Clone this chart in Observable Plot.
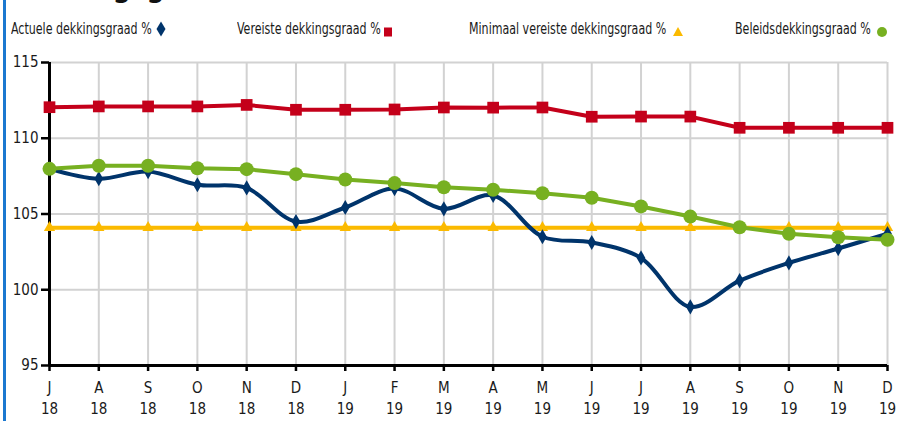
<!DOCTYPE html>
<html>
<head>
<meta charset="utf-8">
<script src="https://cdn.jsdelivr.net/npm/d3@7"></script>
<script src="https://cdn.jsdelivr.net/npm/@observablehq/plot@0.6"></script>
<style>
  body { margin: 0; background: #fff; }
  #wrap { position: relative; width: 906px; height: 421px; overflow: hidden; background: #fff;
          font-family: "Liberation Sans Narrow", "DejaVu Sans Condensed", "Roboto", sans-serif; color: #1a1a1a; }
  #border { position: absolute; left: 3px; top: 0; width: 3px; height: 421px; background: #1b78d0; }
  #title { position: absolute; left: 13px; top: -28px; font-size: 30px; font-weight: bold; line-height: 30px; color: #111; white-space: nowrap; transform: scaleX(0.95); transform-origin: 0 0; }
  .leg { position: absolute; top: 20px; font-size: 16.5px; line-height: 18px; white-space: nowrap; transform: scaleX(0.745); transform-origin: 0 0; }
  .sym { position: absolute; }
  #chart { position: absolute; left: 0; top: 0; }
</style>
</head>
<body>
<div id="wrap">
  <div id="title">Dekkingsgraad</div>
  <div id="border"></div>
  <div id="chart"></div>
</div>
<script>
const months = ["J","A","S","O","N","D","J","F","M","A","M","J","J","A","S","O","N","D"];
const years  = ["18","18","18","18","18","18","19","19","19","19","19","19","19","19","19","19","19","19"];
const yTicks = [95, 100, 105, 110, 115];

const actuele  = [107.98, 107.33, 107.8, 106.93, 106.72, 104.5, 105.43, 106.68, 105.34, 106.22, 103.5, 103.12, 102.1, 98.87, 100.6, 101.77, 102.72, 103.7];
const vereiste = [112.05, 112.1, 112.1, 112.1, 112.2, 111.88, 111.88, 111.9, 112.03, 112.02, 112.03, 111.42, 111.43, 111.43, 110.69, 110.69, 110.69, 110.69];
const minimaal = [104.1, 104.1, 104.1, 104.1, 104.1, 104.1, 104.1, 104.1, 104.1, 104.1, 104.1, 104.1, 104.1, 104.1, 104.1, 104.1, 104.1, 104.1];
const beleids  = [107.98, 108.18, 108.18, 108.02, 107.96, 107.63, 107.28, 107.04, 106.77, 106.6, 106.37, 106.07, 105.5, 104.83, 104.13, 103.69, 103.47, 103.3];

const legendLabels = ["Actuele dekkingsgraad %", "Vereiste dekkingsgraad %", "Minimaal vereiste dekkingsgraad %", "Beleidsdekkingsgraad %"];
const legendSymbols = ["diamond", "square", "triangle", "circle"];

const idx = months.map((m, i) => i);
const C = {act: "#00346b", ver: "#c4001a", min: "#fbba00", bel: "#77b021"};
const legendColors = [C.act, C.ver, C.min, C.bel];
const legendLeft = [11, 237, 469, 735];
const legendSymX = [161, 388, 678, 882];

const chart = Plot.plot({
  width: 906,
  height: 421,
  marginTop: 62,
  marginBottom: 56,
  marginLeft: 49,
  marginRight: 19,
  style: {fontFamily: '"Liberation Sans Narrow", "DejaVu Sans Condensed", sans-serif', fontSize: "15px", color: "#1a1a1a", background: "transparent", overflow: "visible"},
  x: {domain: [0, 17], axis: null},
  y: {domain: [95, 115], axis: null},
  marks: [
    Plot.ruleX(idx, {x: i => i, y1: 95, y2: 115, stroke: "#d2d2d2", strokeWidth: 2}),
    Plot.ruleY(yTicks, {y: d => d, x1: 0, x2: 17, stroke: "#d2d2d2", strokeWidth: 2}),
    Plot.axisY(yTicks, {tickSize: 8, tickPadding: 3, stroke: "#000", strokeWidth: 2.5, label: null}),
    Plot.axisX(idx, {tickSize: 6, tickPadding: 7, stroke: "#000", strokeWidth: 2.5, label: null,
      tickFormat: i => months[i] + "\n" + years[i], lineHeight: 1.4}),
    Plot.ruleY([95], {stroke: "#000", strokeWidth: 3}),
    Plot.ruleX([0], {stroke: "#000", strokeWidth: 3}),
    // Minimaal vereiste
    Plot.line(idx, {x: i => i, y: i => minimaal[i], stroke: C.min, strokeWidth: 4}),
    Plot.dot(idx, {x: i => i, y: i => minimaal[i], symbol: "triangle", r: 4.2, fill: C.min, stroke: null}),
    // Vereiste
    Plot.line(idx, {x: i => i, y: i => vereiste[i], stroke: C.ver, strokeWidth: 4}),
    Plot.dot(idx, {x: i => i, y: i => vereiste[i], symbol: "square", r: 6.6, fill: C.ver, stroke: null}),
    // Actuele
    Plot.line(idx, {x: i => i, y: i => actuele[i], stroke: C.act, strokeWidth: 4, curve: "catmull-rom"}),
    Plot.dot(idx, {x: i => i, y: i => actuele[i], symbol: "diamond", r: 4.6, fill: C.act, stroke: null}),
    // Beleids
    Plot.line(idx, {x: i => i, y: i => beleids[i], stroke: C.bel, strokeWidth: 4}),
    Plot.dot(idx, {x: i => i, y: i => beleids[i], symbol: "circle", r: 7, fill: C.bel, stroke: null})
  ]
});
document.getElementById("chart").appendChild(chart);

// legend
const wrap = document.getElementById("wrap");
const symSvg = {
  diamond: c => `<svg width="10" height="16" viewBox="-5 -8 10 16"><path d="M0,-7.5L4.5,0L0,7.5L-4.5,0Z" fill="${c}"/></svg>`,
  square: c => `<svg width="10" height="12" viewBox="-5 -6 10 12"><rect x="-4" y="-4.5" width="8" height="9" fill="${c}"/></svg>`,
  triangle: c => `<svg width="12" height="12" viewBox="-6 -6 12 12"><path d="M0,-5L5,4L-5,4Z" fill="${c}"/></svg>`,
  circle: c => `<svg width="12" height="12" viewBox="-6 -6 12 12"><circle r="5" fill="${c}"/></svg>`
};
const symSize = {diamond: [10, 16], square: [10, 12], triangle: [12, 12], circle: [12, 12]};
legendLabels.forEach((label, k) => {
  const d = document.createElement("div");
  d.className = "leg";
  d.style.left = legendLeft[k] + "px";
  d.textContent = label;
  wrap.appendChild(d);
  const s = document.createElement("div");
  s.className = "sym";
  const sz = symSize[legendSymbols[k]];
  s.style.left = (legendSymX[k] - sz[0] / 2) + "px";
  s.style.top = (29 - sz[1] / 2) + "px";
  s.style.width = sz[0] + "px";
  s.style.height = sz[1] + "px";
  s.innerHTML = symSvg[legendSymbols[k]](legendColors[k]);
  wrap.appendChild(s);
});
</script>
</body>
</html>
